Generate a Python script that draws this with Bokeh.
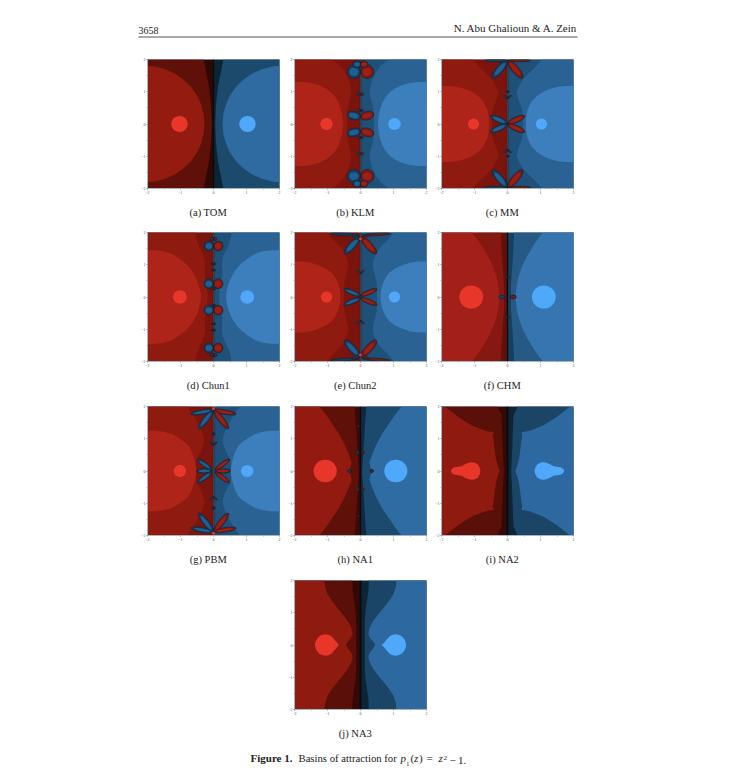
from bokeh.embed import file_html
from bokeh.resources import INLINE
from bokeh.plotting import figure
from bokeh.layouts import column, row
from bokeh.models import Range1d, FixedTicker, Spacer
from bokeh.core.properties import value

SERIF = "Liberation Serif"

# ---- curve data: right half-plane, y >= 0; mirrored for the other quadrants ----
TOM_A_X = [0.30, 0.25, 0.20, 0.15, 0.12, 0.09, 0.07, 0.05]
TOM_A_Y = [2.0, 1.75, 1.5, 1.25, 1.0, 0.75, 0.5, 0.0]
TOM_B_X = [2.0, 1.77, 1.46, 1.175, 0.92, 0.69, 0.51, 0.38, 0.30, 0.27]
TOM_B_Y = [1.81, 1.782, 1.70, 1.567, 1.387, 1.163, 0.905, 0.619, 0.314, 0.0]

KLM_A_X = [0.05, 0.04]
KLM_A_Y = [2.0, 0.0]
KLM_B_X = [0.9, 0.75, 0.6, 0.48, 0.38, 0.31, 0.28, 0.31, 0.36, 0.40, 0.41, 0.40]
KLM_B_Y = [2.0, 1.92, 1.8, 1.62, 1.42, 1.22, 1.0, 0.82, 0.62, 0.4, 0.2, 0.0]
KLM_C_X = [2.0, 1.75, 1.5, 1.25, 1.05, 0.88, 0.75, 0.66, 0.60, 0.56, 0.54, 0.53]
KLM_C_Y = [1.3, 1.3, 1.27, 1.2, 1.1, 0.98, 0.82, 0.65, 0.47, 0.3, 0.15, 0.0]

MM_A_X = [0.07, 0.05]
MM_A_Y = [2.0, 0.0]
MM_B_X = [1.05, 0.95, 0.8, 0.62, 0.47, 0.35, 0.28, 0.31, 0.38, 0.45, 0.47, 0.47]
MM_B_Y = [2.0, 1.88, 1.72, 1.55, 1.38, 1.18, 1.0, 0.82, 0.62, 0.42, 0.2, 0.0]
MM_C_X = [2.0, 1.75, 1.5, 1.25, 1.05, 0.88, 0.75, 0.66, 0.60, 0.57, 0.56, 0.56]
MM_C_Y = [1.18, 1.18, 1.15, 1.08, 0.98, 0.86, 0.72, 0.56, 0.4, 0.25, 0.12, 0.0]

CH1_A_X = [0.05, 0.04]
CH1_A_Y = [2.0, 0.0]
CH1_B_X = [0.55, 0.52, 0.46, 0.36, 0.28, 0.25, 0.27, 0.26, 0.21, 0.18, 0.17]
CH1_B_Y = [2.0, 1.82, 1.62, 1.42, 1.22, 1.0, 0.8, 0.6, 0.42, 0.2, 0.0]
CH1_C_X = [2.0, 1.75, 1.5, 1.25, 1.05, 0.85, 0.70, 0.58, 0.49, 0.42, 0.39, 0.38]
CH1_C_Y = [1.45, 1.45, 1.42, 1.33, 1.2, 1.05, 0.88, 0.7, 0.5, 0.28, 0.12, 0.0]

CH2_A_X = [0.06, 0.05]
CH2_A_Y = [2.0, 0.0]
CH2_B_X = [1.0, 0.9, 0.75, 0.58, 0.46, 0.38, 0.38, 0.43, 0.49, 0.50, 0.50]
CH2_B_Y = [2.0, 1.85, 1.7, 1.52, 1.32, 1.1, 0.9, 0.7, 0.45, 0.2, 0.0]
CH2_C_X = [2.0, 1.75, 1.5, 1.25, 1.05, 0.88, 0.76, 0.68, 0.63, 0.61, 0.61]
CH2_C_Y = [1.1, 1.1, 1.06, 0.98, 0.88, 0.76, 0.6, 0.42, 0.25, 0.1, 0.0]

CHM_A_X = [0.20, 0.18, 0.15, 0.12, 0.10, 0.10]
CHM_A_Y = [2.0, 1.5, 1.0, 0.6, 0.3, 0.0]
CHM_B_X = [1.08, 0.96, 0.85, 0.72, 0.60, 0.50, 0.42, 0.35, 0.30, 0.27, 0.25, 0.25]
CHM_B_Y = [2.0, 1.85, 1.7, 1.48, 1.28, 1.08, 0.88, 0.68, 0.48, 0.28, 0.12, 0.0]

PBM_A_X = [0.06, 0.05]
PBM_A_Y = [2.0, 0.0]
PBM_B_X = [0.8, 0.7, 0.58, 0.47, 0.36, 0.28, 0.30, 0.37, 0.48, 0.54, 0.55]
PBM_B_Y = [2.0, 1.85, 1.68, 1.48, 1.25, 1.02, 0.82, 0.62, 0.42, 0.2, 0.0]
PBM_C_X = [2.0, 1.75, 1.5, 1.25, 1.05, 0.88, 0.75, 0.66, 0.60, 0.56, 0.53, 0.52]
PBM_C_Y = [1.25, 1.25, 1.22, 1.14, 1.02, 0.9, 0.78, 0.6, 0.42, 0.28, 0.12, 0.0]

NA1_A_X = [0.18, 0.14, 0.11, 0.08, 0.05]
NA1_A_Y = [2.0, 1.5, 1.0, 0.5, 0.0]
NA1_B_X = [1.25, 1.05, 0.85, 0.65, 0.47, 0.35, 0.27, 0.30, 0.36]
NA1_B_Y = [2.0, 1.75, 1.45, 1.15, 0.8, 0.5, 0.27, 0.12, 0.0]

NA2_A_X = [0.31, 0.24, 0.18, 0.17, 0.16, 0.15, 0.14, 0.11]
NA2_A_Y = [2.0, 1.85, 1.72, 1.45, 1.2, 0.9, 0.57, 0.0]
NA2_B_X = [1.87, 1.48, 1.08, 0.67, 0.42, 0.45, 0.42, 0.39, 0.35, 0.30, 0.24]
NA2_B_Y = [1.98, 1.67, 1.41, 1.25, 1.2, 1.1, 0.95, 0.68, 0.37, 0.18, 0.0]
NA2_D_X = [0.82, 0.84, 0.90, 1.00, 1.10, 1.20, 1.30, 1.40, 1.50, 1.60, 1.68, 1.72]
NA2_D_Y = [0.0, 0.10, 0.20, 0.26, 0.27, 0.25, 0.20, 0.15, 0.13, 0.12, 0.08, 0.0]

NA3_A_X = [0.25, 0.24, 0.20, 0.15, 0.13, 0.13, 0.13]
NA3_A_Y = [2.0, 1.7, 1.4, 1.05, 0.7, 0.4, 0.0]
NA3_B_X = [1.09, 1.07, 1.0, 0.87, 0.7, 0.54, 0.38, 0.30, 0.26, 0.24, 0.28, 0.33, 0.40, 0.44]
NA3_B_Y = [2.0, 1.8, 1.57, 1.37, 1.15, 0.95, 0.74, 0.58, 0.48, 0.34, 0.24, 0.17, 0.08, 0.0]
NA3_D_X = [0.65, 0.72, 0.80, 0.88, 0.95, 1.05, 1.15, 1.25, 1.33, 1.37, 1.38]
NA3_D_Y = [0.0, 0.08, 0.18, 0.27, 0.31, 0.33, 0.32, 0.27, 0.18, 0.08, 0.0]

# petals: centre x, centre y, length, width, angle
KLM_PETALS = [(0.20, 0.26, 0.42, 0.26, 15), (0.20, 1.62, 0.40, 0.42, 0), (0.10, 1.85, 0.25, 0.22, 0), (0.05, 0.92, 0.10, 0.08, 0), (0.04, 0.42, 0.1, 0.07, 0)]
MM_PETALS = [(0.26, 0.13, 0.58, 0.17, 24), (0.23, 1.70, 0.70, 0.22, -50), (0.36, 1.97, 0.68, 0.08, 0), (0.05, 0.84, 0.16, 0.05, 32), (0.02, 1.0, 0.06, 0.06, 0)]
CH1_PETALS = [(0.14, 0.41, 0.29, 0.30, 0), (0.14, 1.58, 0.29, 0.30, 0), (0.04, 1.8, 0.12, 0.1, 0), (0.03, 1.03, 0.07, 0.07, 0), (0.03, 0.83, 0.07, 0.06, 0), (0.03, 0.26, 0.1, 0.07, 0)]
CH2_PETALS = [(0.25, 0.14, 0.55, 0.14, 22), (0.25, 1.60, 0.68, 0.22, -48), (0.48, 1.94, 0.85, 0.08, 4), (0.05, 0.78, 0.15, 0.05, 35), (0.12, 1.85, 0.3, 0.07, 30)]
CHM_PETALS = [(0.17, 0.0, 0.18, 0.11, 0), (0.04, 0.63, 0.08, 0.05, 0)]
PBM_PETALS = [(0.28, 0.0, 0.46, 0.12, 0), (0.27, 0.2, 0.55, 0.13, 36), (0.33, 1.83, 0.72, 0.14, -10), (0.23, 1.60, 0.72, 0.18, -52), (0.05, 0.85, 0.16, 0.05, 32), (0.02, 1.15, 0.07, 0.07, 0)]
NA1_PETALS = [(0.34, 0.0, 0.09, 0.09, 0), (0.09, 0.57, 0.08, 0.08, 0), (0.07, 1.4, 0.05, 0.05, 0)]

# shades from the imaginary axis outwards
TOM_BLUE = ["#0b2436", "#1c4a6d", "#2f6ba0"]
TOM_RED = ["#2e0805", "#5f1009", "#931b10"]
MID_BLUE = ["#1c4a70", "#1f5078", "#2b6294", "#3c7fbc"]
MID_RED = ["#7c150d", "#7a140c", "#8f1a10", "#ae2418"]
CHM_BLUE = ["#16405f", "#265a85", "#3775b0"]
CHM_RED = ["#64100a", "#851810", "#a3201a"]
NA1_BLUE = ["#0f2a40", "#1c4a6e", "#2f6ca3"]
NA1_RED = ["#3c0906", "#5f1009", "#921a10"]
NA2_BLUE = ["#0c2436", "#1a4566", "#2d69a0"]
NA2_RED = ["#360805", "#5a0f08", "#8e1a10"]

DOT_BLUE = "#4fa8fa"
DOT_RED = "#e8362a"

TICK_VALUES = [-2, -1, 0, 1, 2]
MINOR_VALUES = [-1.5, -0.5, 0.5, 1.5]
OUTLINE = "#10283c"


def half_plane(xs, ys):
    out_x = [2.0] + xs + xs[::-1] + [2.0]
    out_y = [2.0] + ys + [-v for v in ys[::-1]] + [-2.0]
    return out_x, out_y


def panel(caption, layers, blues, reds, dot=None, blob=None, petals=(), chain=False, spine=None,
          marks=(), bottom=36):
    p = figure(frame_width=132, frame_height=129, width=147, height=129 + 8 + bottom,
               x_range=Range1d(-2, 2), y_range=Range1d(-2, 2), toolbar_location=None,
               output_backend="svg", min_border_left=8, min_border_right=6,
               min_border_top=8, min_border_bottom=bottom, background_fill_color=None,
               border_fill_color=None)
    p.grid.visible = False
    p.outline_line_color = "#a9b5bd"
    p.outline_line_width = 1
    for ax in (p.xaxis[0], p.yaxis[0]):
        ax.ticker = FixedTicker(ticks=TICK_VALUES, minor_ticks=MINOR_VALUES)
        ax.major_label_text_font = SERIF
        ax.major_label_text_font_size = "4px"
        ax.major_label_text_color = "#555555"
        ax.major_label_standoff = 1
        ax.major_tick_out = 1
        ax.major_tick_in = 0
        ax.minor_tick_out = 1
        ax.minor_tick_in = 0
        ax.major_tick_line_color = "#888888"
        ax.minor_tick_line_color = "#aaaaaa"
        ax.axis_line_color = "#a9b5bd"
    p.xaxis[0].axis_label = caption + "\u00a0\u00a0\u00a0"
    p.xaxis[0].axis_label_text_font = SERIF
    p.xaxis[0].axis_label_text_font_style = "normal"
    p.xaxis[0].axis_label_text_font_size = "10.5px"
    p.xaxis[0].axis_label_text_color = "#222222"
    p.xaxis[0].axis_label_standoff = 10

    p.quad(left=[0], right=[2], bottom=[-2], top=[2], fill_color=blues[0], line_color=None)
    p.quad(left=[-2], right=[0], bottom=[-2], top=[2], fill_color=reds[0], line_color=None)
    for (xs, ys), b, r in zip(layers, blues[1:], reds[1:]):
        ox, oy = half_plane(xs, ys)
        p.patch(ox, oy, fill_color=b, line_color=None)
        p.patch([-v for v in ox], oy, fill_color=r, line_color=None)
    if spine:
        p.quad(left=[-spine], right=[spine], bottom=[-2], top=[2], fill_color="#050d13", line_color=None)
    for cx, cy, ln, w, a in petals:
        ry = [cy, -cy]
        p.ellipse([cx, cx], ry, width=ln, height=w, angle=[a, -a], angle_units="deg",
                  fill_color="#7e1710", line_color=OUTLINE, line_width=0.8)
        p.ellipse([-cx, -cx], ry, width=ln, height=w, angle=[-a, a], angle_units="deg",
                  fill_color="#143f61", line_color=OUTLINE, line_width=0.8)
        if w >= 0.12:
            p.ellipse([cx, cx], ry, width=ln * 0.7, height=w * 0.6, angle=[a, -a], angle_units="deg",
                      fill_color="#9a1f14", line_color=None)
            p.ellipse([-cx, -cx], ry, width=ln * 0.7, height=w * 0.6, angle=[-a, a], angle_units="deg",
                      fill_color="#225f91", line_color=None)
    if chain:
        p.line([0, 0], [-2, 2], line_color="#0a1622", line_width=1.4, line_dash="1 1")
    for mx, my in marks:
        p.ellipse([mx, mx], [my, -my], width=0.09, height=0.09, fill_color=DOT_RED, line_color=None)
    if dot:
        p.ellipse([dot[0]], [0], width=2 * dot[1], height=2 * dot[1], fill_color=DOT_BLUE, line_color=None)
        p.ellipse([-dot[0]], [0], width=2 * dot[1], height=2 * dot[1], fill_color=DOT_RED, line_color=None)
    if blob:
        bx = blob[0] + blob[0][::-1]
        by = blob[1] + [-v for v in blob[1][::-1]]
        p.patch(bx, by, fill_color=DOT_BLUE, line_color=None)
        p.patch([-v for v in bx], by, fill_color=DOT_RED, line_color=None)
    return p


a = panel("(a)  TOM", [(TOM_A_X, TOM_A_Y), (TOM_B_X, TOM_B_Y)], TOM_BLUE, TOM_RED, dot=(1.03, 0.25), spine=0.02)
b = panel("(b)  KLM", [(KLM_A_X, KLM_A_Y), (KLM_B_X, KLM_B_Y), (KLM_C_X, KLM_C_Y)], MID_BLUE, MID_RED, dot=(1.03, 0.19), petals=KLM_PETALS, chain=True)
c = panel("(c)  MM", [(MM_A_X, MM_A_Y), (MM_B_X, MM_B_Y), (MM_C_X, MM_C_Y)], MID_BLUE, MID_RED, dot=(1.03, 0.17), petals=MM_PETALS, chain=True)
d = panel("(d)  Chun1", [(CH1_A_X, CH1_A_Y), (CH1_B_X, CH1_B_Y), (CH1_C_X, CH1_C_Y)], MID_BLUE, MID_RED, dot=(1.02, 0.21), petals=CH1_PETALS, chain=True, bottom=37)
e = panel("(e)  Chun2", [(CH2_A_X, CH2_A_Y), (CH2_B_X, CH2_B_Y), (CH2_C_X, CH2_C_Y)], MID_BLUE, MID_RED, dot=(1.03, 0.17), petals=CH2_PETALS, chain=True, marks=[(0, 1.8)], bottom=37)
f = panel("(f)  CHM", [(CHM_A_X, CHM_A_Y), (CHM_B_X, CHM_B_Y)], CHM_BLUE, CHM_RED, dot=(1.1, 0.36), petals=CHM_PETALS, spine=0.02, bottom=37)
g = panel("(g)  PBM", [(PBM_A_X, PBM_A_Y), (PBM_B_X, PBM_B_Y), (PBM_C_X, PBM_C_Y)], MID_BLUE, MID_RED, dot=(1.02, 0.19), petals=PBM_PETALS, chain=True, marks=[(0, 1.93)], bottom=37)
h = panel("(h)  NA1", [(NA1_A_X, NA1_A_Y), (NA1_B_X, NA1_B_Y)], NA1_BLUE, NA1_RED, dot=(1.07, 0.35), petals=NA1_PETALS, spine=0.02, bottom=37)
i = panel("(i)  NA2", [(NA2_A_X, NA2_A_Y), (NA2_B_X, NA2_B_Y)], NA2_BLUE, NA2_RED, blob=(NA2_D_X, NA2_D_Y), spine=0.03, bottom=37)
j = panel("(j)  NA3", [(NA3_A_X, NA3_A_Y), (NA3_B_X, NA3_B_Y)], NA2_BLUE, NA2_RED, blob=(NA3_D_X, NA3_D_Y), spine=0.03, bottom=36)


def page_strip(h_px):
    s = figure(width=728, height=h_px, x_range=Range1d(0, 728), y_range=Range1d(h_px, 0),
               toolbar_location=None, output_backend="svg", min_border=0,
               background_fill_color=None, border_fill_color=None, outline_line_color=None)
    s.axis.visible = False
    s.grid.visible = False
    return s


header = page_strip(51)
header.text([138], [33.5], text=["3658"], text_font=value(SERIF), text_font_size="10px", text_color="#222222", text_baseline="bottom")
header.text([577], [33.5], text=["N. Abu Ghalioun & A. Zein"], text_font=value(SERIF), text_font_size="11px", text_color="#222222", text_align="right", text_baseline="bottom")
header.line([138, 577], [36.5, 36.5], line_color="#555555", line_width=1)

footer = page_strip(22)
FOOT_PIECES = [
    (250, "Figure 1.", "bold", "11px", 18),
    (298, "Basins of attraction for", "normal", "10.7px", 18),
    (400, "p", "italic", "11px", 18),
    (405.5, "1", "normal", "7px", 20),
    (410, "(", "normal", "11px", 18),
    (413.5, "z", "italic", "11px", 18),
    (418.5, ")", "normal", "11px", 18),
    (426, "=", "normal", "11px", 18),
    (438, "z", "italic", "11px", 18),
    (443, "2", "normal", "7px", 14),
    (449, "\u2212", "normal", "11px", 18),
    (457.5, "1.", "normal", "11px", 18),
]
for fx, txt, sty, sz, fy in FOOT_PIECES:
    footer.text([fx], [fy], text=[txt], text_font=value(SERIF), text_font_style=sty,
                text_font_size=sz, text_color="#222222", text_baseline="bottom")

layout = column(
    header,
    row(Spacer(width=138, height=173), a, b, c),
    row(Spacer(width=138, height=174), d, e, f),
    row(Spacer(width=138, height=174), g, h, i),
    row(Spacer(width=285, height=173), j),
    footer,
)

open("out.html", "w").write(file_html(layout, INLINE))
